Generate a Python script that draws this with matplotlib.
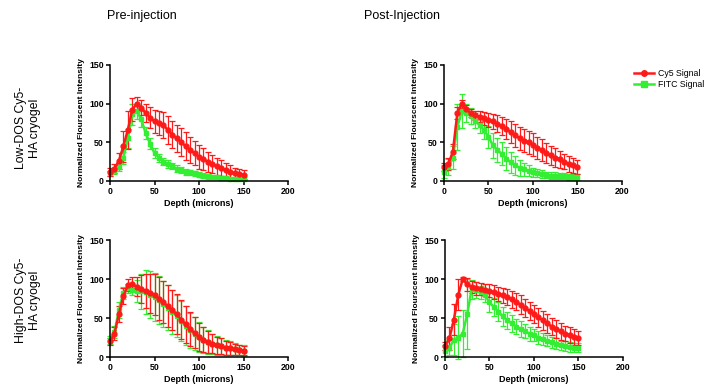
import numpy as np
import matplotlib
matplotlib.use('Agg')
import matplotlib.pyplot as plt
from matplotlib.lines import Line2D

plt.rcParams['font.family'] = ['Liberation Sans', 'DejaVu Sans']

# depth in microns
depth = list(range(0, 155, 5))

# Low-DOS, pre-injection
low_pre_cy5 = [12, 16, 26, 45, 66, 92, 100, 95, 88, 82, 77, 75, 72, 66, 60, 55, 50,
               45, 40, 36, 31, 28, 25, 22, 19, 17, 14, 12, 10, 9, 8]
low_pre_cy5_err = [5, 6, 10, 20, 25, 15, 8, 10, 12, 14, 15, 16, 17, 18, 18, 18, 18,
                   18, 17, 16, 15, 14, 13, 12, 11, 10, 9, 8, 7, 7, 6]
low_pre_fitc = [10, 13, 18, 30, 55, 86, 90, 80, 62, 48, 36, 30, 25, 22, 19, 16, 14,
                12, 11, 10, 8, 7, 6, 5, 5, 4, 4, 3, 3, 3, 3]
low_pre_fitc_err = [3, 4, 5, 8, 12, 14, 10, 10, 8, 7, 6, 5, 5, 5, 4, 4, 4,
                    4, 3, 3, 3, 3, 3, 2, 2, 2, 2, 2, 2, 2, 2]

# Low-DOS, post-injection
low_post_cy5 = [18, 22, 38, 88, 100, 93, 88, 85, 83, 81, 79, 77, 74, 71, 67, 63, 59,
                55, 52, 50, 47, 43, 40, 36, 33, 30, 28, 25, 22, 20, 18]
low_post_cy5_err = [5, 8, 10, 8, 5, 5, 5, 6, 7, 8, 9, 10, 11, 12, 13, 14, 15,
                    15, 15, 15, 15, 14, 14, 13, 12, 12, 11, 10, 10, 10, 9]
low_post_fitc = [12, 18, 30, 70, 90, 88, 84, 78, 72, 66, 57, 46, 40, 35, 29, 24, 20,
                 17, 15, 13, 11, 10, 9, 8, 7, 7, 6, 6, 5, 5, 5]
low_post_fitc_err = [8, 10, 15, 30, 22, 12, 10, 10, 10, 12, 14, 16, 16, 15, 15, 14, 12,
                     10, 8, 7, 6, 5, 5, 4, 4, 4, 4, 4, 4, 4, 4]

# High-DOS, pre-injection
high_pre_cy5 = [20, 30, 55, 78, 92, 94, 90, 87, 85, 82, 80, 75, 70, 65, 60, 55, 48,
                42, 36, 31, 26, 22, 19, 17, 15, 14, 12, 11, 10, 9, 8]
high_pre_cy5_err = [5, 8, 10, 10, 8, 8, 12, 18, 22, 25, 26, 27, 27, 27, 26, 26, 25,
                    24, 22, 20, 18, 16, 14, 12, 11, 10, 9, 8, 7, 6, 6]
high_pre_fitc = [22, 32, 60, 82, 88, 86, 85, 84, 83, 80, 77, 73, 68, 63, 58, 53, 46,
                 40, 34, 30, 26, 22, 19, 17, 15, 14, 12, 11, 10, 9, 8]
high_pre_fitc_err = [5, 8, 10, 8, 6, 6, 14, 22, 28, 30, 31, 31, 30, 29, 28, 27, 26,
                     25, 23, 21, 19, 17, 15, 13, 12, 11, 10, 9, 8, 7, 7]

# High-DOS, post-injection
high_post_cy5 = [14, 24, 48, 80, 100, 93, 90, 88, 87, 86, 85, 83, 81, 79, 77, 74, 71,
                 67, 63, 59, 55, 51, 47, 43, 39, 36, 33, 30, 28, 26, 24]
high_post_cy5_err = [5, 15, 20, 20, 3, 8, 8, 8, 8, 8, 8, 9, 9, 10, 10, 11, 11,
                     12, 12, 12, 12, 12, 12, 12, 11, 11, 11, 10, 10, 10, 9]
high_post_fitc = [8, 12, 22, 25, 30, 55, 87, 86, 83, 79, 70, 64, 58, 52, 47, 43, 39,
                  36, 33, 30, 28, 25, 23, 21, 19, 17, 15, 14, 13, 12, 12]
high_post_fitc_err = [8, 10, 20, 28, 30, 45, 12, 10, 8, 8, 12, 12, 12, 12, 11, 11, 10,
                      10, 9, 9, 8, 8, 8, 7, 7, 7, 6, 6, 6, 6, 6]

red = '#ff1a1a'
green = '#33ee33'

fig = plt.figure(figsize=(7.08, 3.9), dpi=100)

panels = [
    ([0.1554, 0.536, 0.2514, 0.2974], low_pre_cy5, low_pre_cy5_err, low_pre_fitc, low_pre_fitc_err),
    ([0.6271, 0.536, 0.2514, 0.2974], low_post_cy5, low_post_cy5_err, low_post_fitc, low_post_fitc_err),
    ([0.1554, 0.0846, 0.2514, 0.3], high_pre_cy5, high_pre_cy5_err, high_pre_fitc, high_pre_fitc_err),
    ([0.6285, 0.0846, 0.2514, 0.3], high_post_cy5, high_post_cy5_err, high_post_fitc, high_post_fitc_err),
]

for rect, cy5, cy5_err, fitc, fitc_err in panels:
    ax = fig.add_axes(rect)
    ax.errorbar(depth, fitc, yerr=fitc_err, color=green, marker='s', ms=3.3,
                lw=1.8, elinewidth=0.9, capsize=2.2, capthick=0.9, clip_on=False)
    ax.errorbar(depth, cy5, yerr=cy5_err, color=red, marker='o', ms=3.5,
                lw=1.8, elinewidth=0.9, capsize=2.2, capthick=0.9, clip_on=False)
    ax.set_xlim(0, 200)
    ax.set_ylim(0, 150)
    ax.set_xticks([0, 50, 100, 150, 200])
    ax.set_yticks([0, 50, 100, 150])
    for s in ['top', 'right']:
        ax.spines[s].set_visible(False)
    for s in ['left', 'bottom']:
        ax.spines[s].set_linewidth(1.1)
    ax.tick_params(labelsize=6.3, length=3, width=1.1, pad=1.5)
    for lab in ax.get_xticklabels() + ax.get_yticklabels():
        lab.set_fontweight('bold')
    ax.set_xlabel('Depth (microns)', fontsize=6.5, fontweight='bold', labelpad=2)
    ax.set_ylabel('Normalized Flourscent Intensity', fontsize=6, fontweight='bold', labelpad=3)
    ax.patch.set_alpha(0)

fig.text(0.2, 0.96, 'Pre-injection', ha='center', va='center', fontsize=9)
fig.text(0.568, 0.96, 'Post-Injection', ha='center', va='center', fontsize=9)
fig.text(0.04, 0.672, 'Low-DOS Cy5-\nHA cryogel', rotation=90, ha='center', va='center',
         fontsize=8.8, multialignment='center')
fig.text(0.04, 0.23, 'High-DOS Cy5-\nHA cryogel', rotation=90, ha='center', va='center',
         fontsize=8.8, multialignment='center')

handles = [Line2D([], [], color=red, marker='o', ms=4, lw=1.8),
           Line2D([], [], color=green, marker='s', ms=4, lw=1.8)]
fig.legend(handles, ['Cy5 Signal', 'FITC Signal'], loc='upper left',
           bbox_to_anchor=(0.89, 0.835), frameon=False, fontsize=6.3,
           handlelength=2.2, handletextpad=0.5, labelspacing=0.3, borderpad=0)

fig.savefig('out.png', dpi=100)
